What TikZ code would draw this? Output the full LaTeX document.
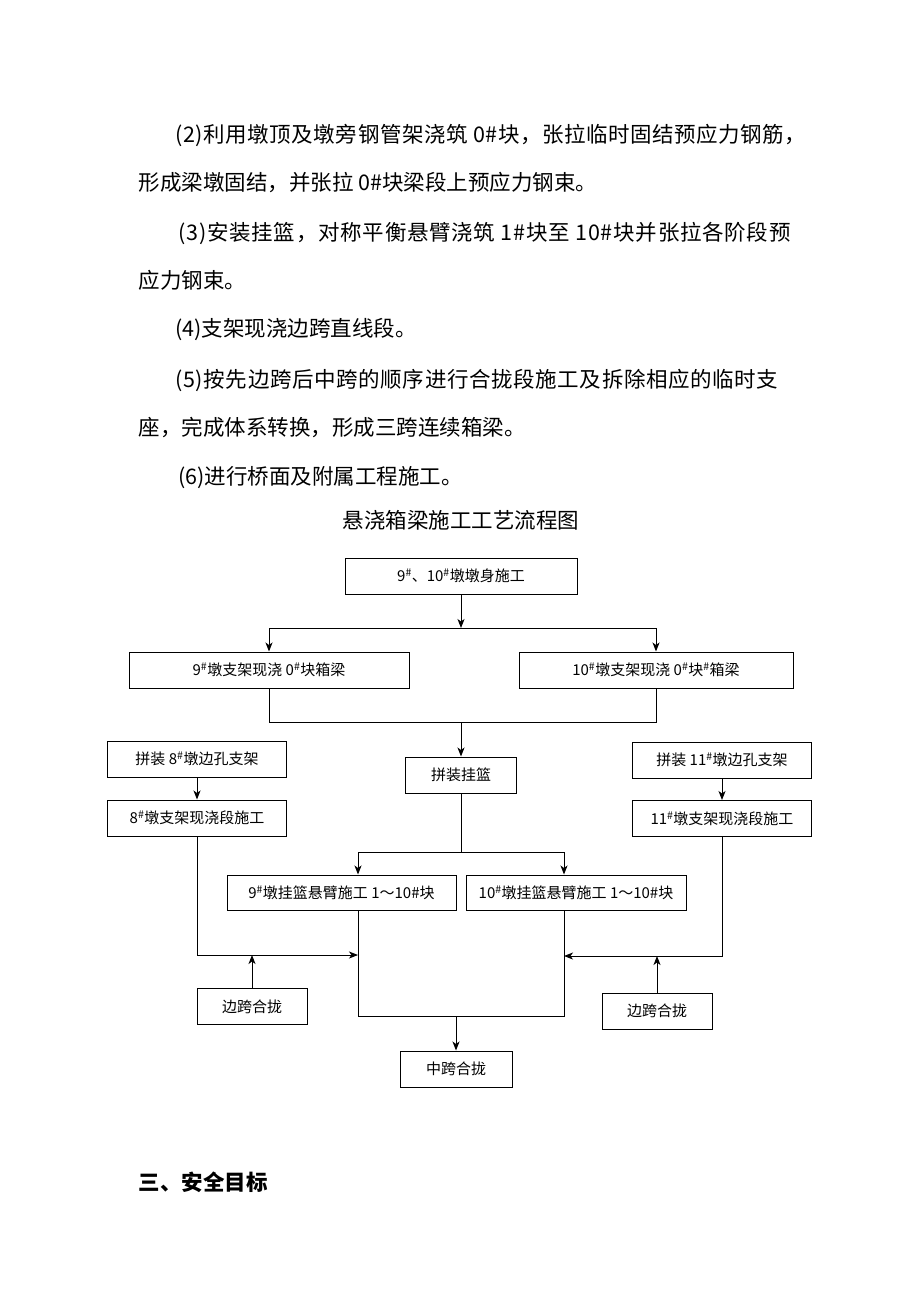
\documentclass[tikz,border=0pt]{standalone}
\usepackage{fontspec}
\setmainfont{Noto Sans CJK SC}
\usetikzlibrary{arrows.meta}
\newcommand{\sh}{\textsuperscript{\#}}
\begin{document}
\begin{tikzpicture}[x=1pt,y=-1pt,line width=1pt,
  box/.style={draw,minimum height=36pt,inner sep=0pt,font=\fontsize{15}{15}\selectfont},
  para/.style={anchor=west,inner sep=0pt,font=\fontsize{21.5}{21.5}\selectfont},
  wide/.style={para,font=\fontsize{21.5}{21.5}\selectfont\addfontfeature{LetterSpace=#1}},
  arr/.style={-{Stealth[length=9pt,width=7pt,inset=2.5pt]}}]
\useasboundingbox (0,0) rectangle (920,1302);
% text above the chart
\node[wide=2.6] (p2a) at (175,135) {(2)利用墩顶及墩旁钢管架浇筑 0\#块，张拉临时固结预应力钢筋，};
\node[para] (p2b) at (138,183) {形成梁墩固结，并张拉 0\#块梁段上预应力钢束。};
\node[wide=3.4] (p3a) at (178,233) {(3)安装挂篮，对称平衡悬臂浇筑 1\#块至 10\#块并张拉各阶段预};
\node[para] (p3b) at (138,280) {应力钢束。};
\node[para] (p4) at (175,330) {(4)支架现浇边跨直线段。};
\node[wide=2.9] (p5a) at (175,380) {(5)按先边跨后中跨的顺序进行合拢段施工及拆除相应的临时支};
\node[para] (p5b) at (138,428) {座，完成体系转换，形成三跨连续箱梁。};
\node[para] (p6) at (178,478) {(6)进行桥面及附属工程施工。};
\node[inner sep=0pt,font=\fontsize{21.5}{21.5}\selectfont] (title) at (461,520) {悬浇箱梁施工工艺流程图};
% boxes
\node[box,minimum width=232pt] (pier) at (461,576) {9\sh、10\sh 墩墩身施工};
\node[box,minimum width=280pt] (zero9) at (269,670) {9\sh 墩支架现浇 0\sh 块箱梁};
\node[box,minimum width=274pt] (zero10) at (656,670) {10\sh 墩支架现浇 0\sh 块\sh 箱梁};
\node[box,minimum width=111pt] (basket) at (461,775) {拼装挂篮};
\node[box,minimum width=179pt] (sup8) at (197,759) {拼装 8\sh 墩边孔支架};
\node[box,minimum width=179pt] (cast8) at (197,818) {8\sh 墩支架现浇段施工};
\node[box,minimum width=179pt] (sup11) at (722,760) {拼装 11\sh 墩边孔支架};
\node[box,minimum width=179pt] (cast11) at (722,818.5) {11\sh 墩支架现浇段施工};
\node[box,minimum width=229pt,minimum height=35pt] (cant9) at (341.5,892.5) {9\sh 墩挂篮悬臂施工 1～10\#块};
\node[box,minimum width=220pt,minimum height=35pt] (cant10) at (576,892.5) {10\sh 墩挂篮悬臂施工 1～10\#块};
\node[box,minimum width=110pt] (side8) at (252,1006.5) {边跨合拢};
\node[box,minimum width=110pt] (side11) at (657,1011) {边跨合拢};
\node[box,minimum width=112pt] (mid) at (456,1069) {中跨合拢};
\node[para,font=\fontsize{21.5}{21.5}\selectfont\bfseries] (goal) at (138,1182) {三、安全目标};
% connectors
\coordinate (split1) at (461,628);
\coordinate (join1) at (461,722);
\coordinate (l9) at (358,852);
\coordinate (l10) at (564,852);
\coordinate (m9) at (358,1016);
\coordinate (m10) at (564,1016);
\coordinate (in9) at (358,955);
\coordinate (in10) at (564,956);
\draw[arr] (pier) -- (split1);
\draw (zero9.north |- split1) -- (zero10.north |- split1);
\draw[arr] (zero9.north |- split1) -- (zero9.north);
\draw[arr] (zero10.north |- split1) -- (zero10.north);
\draw (zero9.south) -- (zero9.south |- join1) -- (zero10.south |- join1) -- (zero10.south);
\draw[arr] (join1) -- (basket.north);
\draw[arr] (sup8) -- (cast8);
\draw[arr] (sup11) -- (cast11);
\draw (basket.south) -- (basket.south |- l9);
\draw (l9) -- (l10);
\draw[arr] (l9) -- (l9 |- cant9.north);
\draw[arr] (l10) -- (l10 |- cant10.north);
\draw (l9 |- cant9.south) -- (m9) -- (m10) -- (l10 |- cant10.south);
\draw[arr] (mid.north |- m9) -- (mid.north);
\draw[arr] (cast8.south) -- (cast8.south |- in9) -- (in9);
\draw[arr] (cast11.south) -- (cast11.south |- in10) -- (in10);
\draw[arr] (side8.north) -- (side8.north |- in9);
\draw[arr] (side11.north) -- (side11.north |- in10);
\end{tikzpicture}
\end{document}
